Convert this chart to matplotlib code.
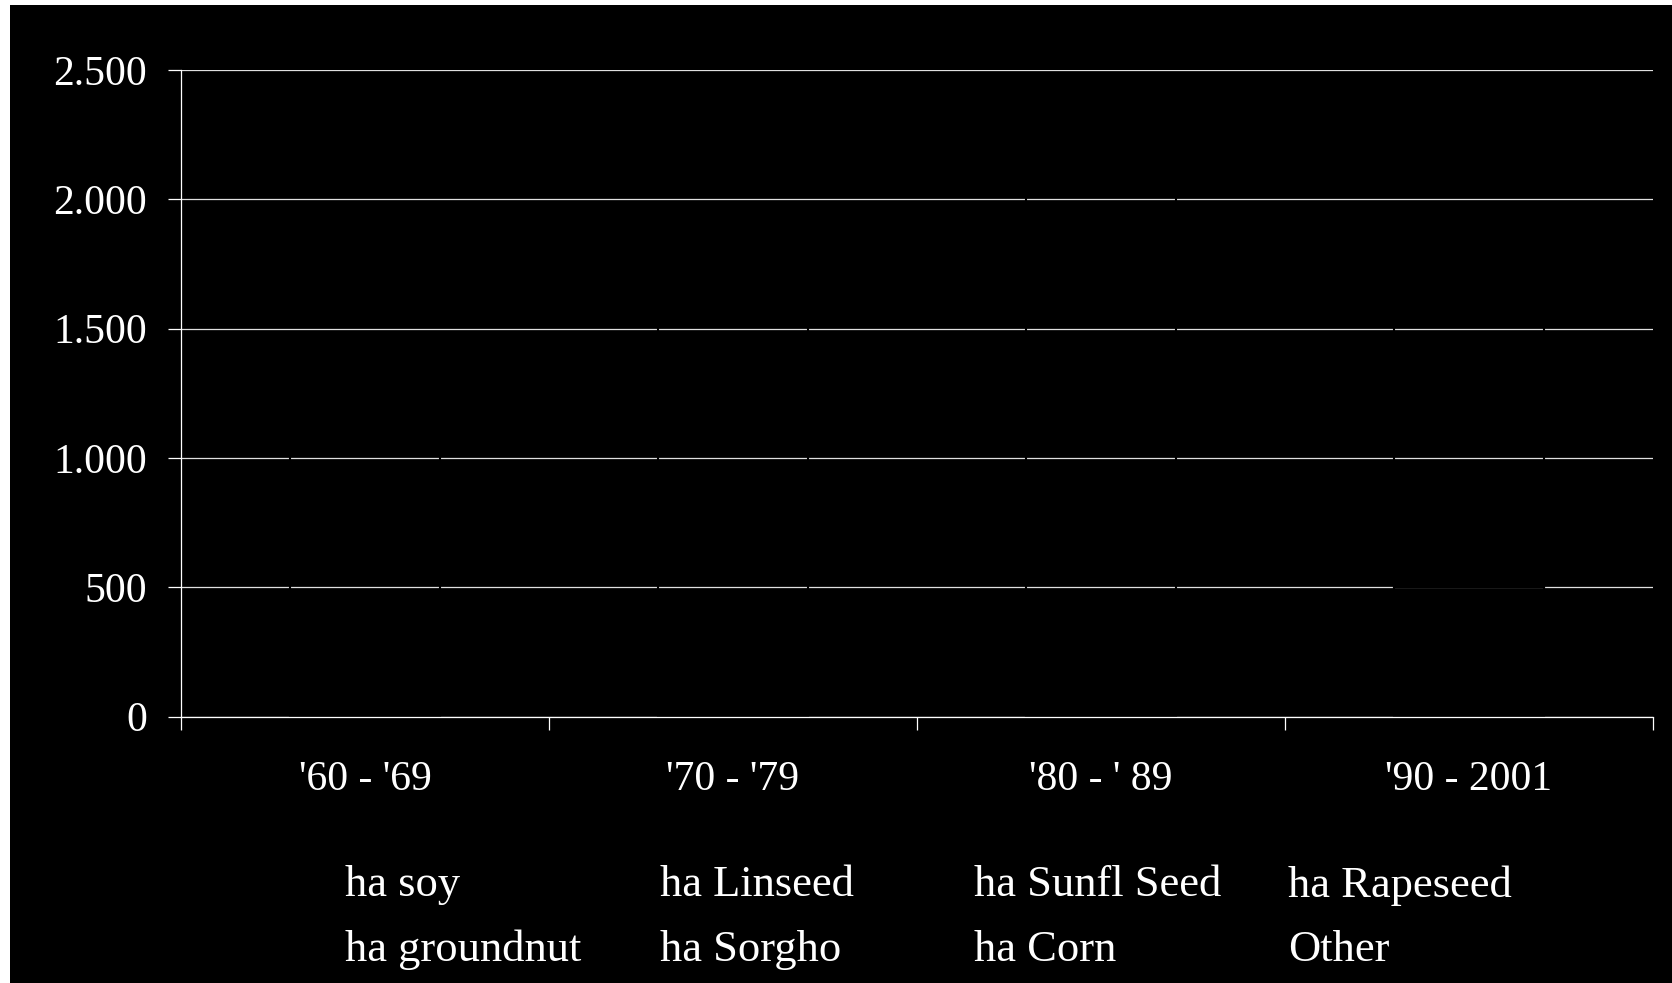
import matplotlib.pyplot as plt
from matplotlib.patches import Rectangle
from matplotlib.ticker import FuncFormatter

# decades on the x axis
periods = ["'60 - '69", "'70 - '79", "'80 - ' 89", "'90 - 2001"]

# area per crop (stacked, bottom to top)
ha_soy = [10, 120, 760, 500]
ha_groundnut = [300, 330, 270, 140]
ha_linseed = [420, 380, 280, 60]
ha_sorgho = [90, 250, 220, 120]
ha_sunfl_seed = [230, 290, 430, 560]
ha_corn = [180, 250, 180, 200]
ha_rapeseed = [0, 0, 5, 20]
other = [30, 40, 60, 90]

series = [
    ("ha soy", ha_soy),
    ("ha groundnut", ha_groundnut),
    ("ha Linseed", ha_linseed),
    ("ha Sorgho", ha_sorgho),
    ("ha Sunfl Seed", ha_sunfl_seed),
    ("ha Corn", ha_corn),
    ("ha Rapeseed", ha_rapeseed),
    ("Other", other),
]

yticks = [0, 500, 1000, 1500, 2000, 2500]

plt.rcParams['font.family'] = ['Liberation Serif', 'DejaVu Serif']

fig = plt.figure(figsize=(16.72, 9.83), dpi=100)
fig.patch.set_facecolor('white')
# black slide background, small white margin top/left
fig.patches.append(Rectangle((10 / 1672, 0), 1 - 10 / 1672, 1 - 5 / 983,
                             transform=fig.transFigure, facecolor='black',
                             edgecolor='none', zorder=-10))

ax = fig.add_axes([181 / 1672, 1 - 716.5 / 983, (1653 - 181) / 1672, (716.5 - 70) / 983])
ax.set_facecolor('none')
ax.set_axisbelow(True)

x = range(len(periods))
bottom = [0] * len(periods)
handles = []
for name, vals in series:
    bars = ax.bar(x, vals, width=0.41, bottom=bottom, facecolor='none',
                  edgecolor='black', linewidth=1.5, label=name)
    handles.append(bars)
    bottom = [b + v for b, v in zip(bottom, vals)]

ax.set_xlim(-0.5, len(periods) - 0.5)
ax.set_ylim(0, 2500)
ax.set_yticks(yticks)
ax.yaxis.set_major_formatter(FuncFormatter(lambda v, p: f"{int(v):,}".replace(',', '.')))
ax.grid(axis='y', color='#e0e0e0', linewidth=0.9)

ax.set_xticks(list(x))
ax.set_xticklabels(periods)
ax.set_xticks([i - 0.5 for i in range(len(periods) + 1)], minor=True)
ax.tick_params(axis='x', which='major', length=0, pad=31.5, labelsize=30, colors='white')
ax.tick_params(axis='x', which='minor', length=9.5, width=0.9, color='white')
ax.tick_params(axis='y', length=9.5, width=0.9, pad=15, labelsize=30, colors='white')

for side in ['top', 'right']:
    ax.spines[side].set_visible(False)
for side in ['left', 'bottom']:
    ax.spines[side].set_color('white')
    ax.spines[side].set_linewidth(0.9)

# legend: four columns of two entries, placed one column at a time
col_x = [345, 660, 974, 1288]
for c in range(4):
    h = handles[2 * c:2 * c + 2]
    fig.legend(h, [s[0] for s in series[2 * c:2 * c + 2]],
               loc='upper left', bbox_to_anchor=(col_x[c] / 1672, 1 - 865 / 983),
               frameon=False, fontsize=32, handlelength=0, handletextpad=0,
               borderpad=0, borderaxespad=0, labelspacing=0.55,
               labelcolor='white')

fig.savefig('out.png', dpi=100, facecolor=fig.get_facecolor())
